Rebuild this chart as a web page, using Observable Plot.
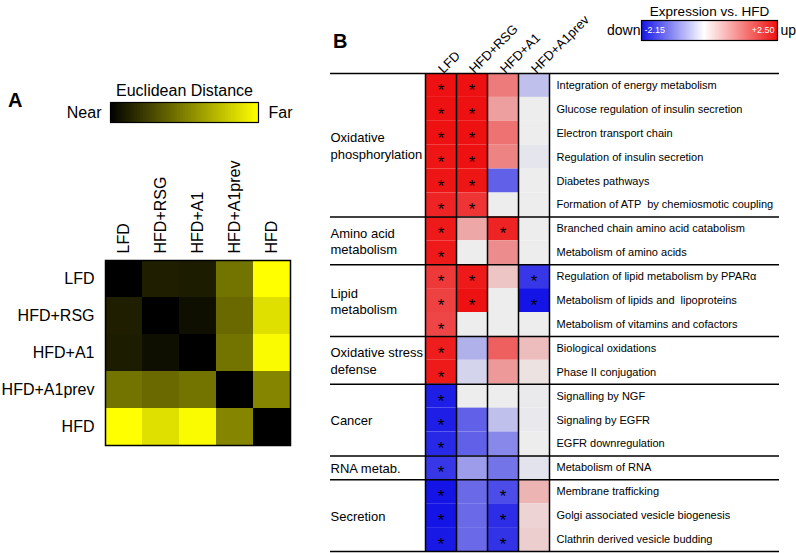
<!DOCTYPE html>
<html>
<head>
<meta charset="utf-8">
<script src="https://cdn.jsdelivr.net/npm/d3@7"></script>
<script src="https://cdn.jsdelivr.net/npm/@observablehq/plot@0.6"></script>
<style>
  body { margin: 0; background: #fff; }
  #root { position: relative; width: 796px; height: 553px; overflow: hidden; background: #fff;
          font-family: "Liberation Sans", Arial, sans-serif; }
  .pane { position: absolute; }
  .letter { position: absolute; font-weight: bold; font-size: 20px; color: #000; }
</style>
</head>
<body>
<div id="root">
  <div class="letter" style="left:8px; top:89px;">A</div>
  <div class="letter" style="left:333px; top:30px;">B</div>
  <div class="pane" id="cbA" style="left:0px; top:80px;"></div>
  <div class="pane" id="hmA" style="left:0px; top:200px;"></div>
  <div class="pane" id="cbB" style="left:600px; top:0px;"></div>
  <div class="pane" id="hmB" style="left:300px; top:0px;"></div>
</div>
<script>
// ---------- Panel A data ----------
const groupsA = ["LFD", "HFD+RSG", "HFD+A1", "HFD+A1prev", "HFD"];
const distLFD       = [0.00, 0.12, 0.11, 0.45, 1.00];
const distHFD_RSG   = [0.12, 0.00, 0.06, 0.41, 0.88];
const distHFD_A1    = [0.11, 0.06, 0.00, 0.45, 0.98];
const distHFD_A1prev= [0.45, 0.41, 0.45, 0.00, 0.52];
const distHFD       = [1.00, 0.88, 0.98, 0.52, 0.00];
const distRows = [distLFD, distHFD_RSG, distHFD_A1, distHFD_A1prev, distHFD];
const cbATitle = "Euclidean Distance";
const cbALow = "Near", cbAHigh = "Far";

// ---------- Panel B data ----------
const colsB = ["LFD", "HFD+RSG", "HFD+A1", "HFD+A1prev"];
const pathways = [
  "Integration of energy metabolism",
  "Glucose regulation of insulin secretion",
  "Electron transport chain",
  "Regulation of insulin secretion",
  "Diabetes pathways",
  "Formation of ATP  by chemiosmotic coupling",
  "Branched chain amino acid catabolism",
  "Metabolism of amino acids",
  "Regulation of lipid metabolism by PPARα",
  "Metabolism of lipids and  lipoproteins",
  "Metabolism of vitamins and cofactors",
  "Biological oxidations",
  "Phase II conjugation",
  "Signalling by NGF",
  "Signaling by EGFR",
  "EGFR downregulation",
  "Metabolism of RNA",
  "Membrane trafficking",
  "Golgi associated vesicle biogenesis",
  "Clathrin derived vesicle budding"
];
const groupNames = ["Oxidative\nphosphorylation", "Amino acid\nmetabolism", "Lipid\nmetabolism",
                    "Oxidative stress\ndefense", "Cancer", "RNA metab.", "Secretion"];
const groupSizes = [6, 2, 3, 2, 3, 1, 3];

const valLFD    = [2.5, 2.5, 2.5, 2.45, 2.45, 2.3, 2.4, 2.4, 2.05, 1.95, 1.9, 2.35, 2.4, -2.05, -2.05, -1.95, -1.8, -2.15, -2.15, -2.1];
const valRSG    = [2.5, 2.5, 2.5, 2.5, 2.45, 2.1, 0.8, 0, 2.4, 2.5, 0, -0.6, -0.25, 0, -1.4, -1.4, -0.8, -1.3, -1.3, -1.3];
const valA1     = [1.3, 0.9, 1.4, 1.2, -1.4, 0, 2.3, 1.1, 0.45, 0, 0, 1.6, 0.95, 0, -0.45, -1.0, -1.2, -1.6, -1.9, -1.85];
const valA1prev = [-0.45, 0, 0, -0.08, 0, 0, 0, 0, -1.8, -2.15, 0, 0.55, 0.12, -0.03, -0.05, 0, -0.1, 0.65, 0.3, 0.35];
const sigLFD    = [1,1,1,1,1,1, 1,1, 1,1,1, 1,1, 1,1,1, 1, 1,1,1];
const sigRSG    = [1,1,1,1,1,1, 0,0, 1,1,0, 0,0, 0,0,0, 0, 0,0,0];
const sigA1     = [0,0,0,0,0,0, 1,0, 0,0,0, 0,0, 0,0,0, 0, 1,1,1];
const sigA1prev = [0,0,0,0,0,0, 0,0, 1,1,0, 0,0, 0,0,0, 0, 0,0,0];
const cbBTitle = "Expression vs. HFD";
const cbBMin = -2.15, cbBMax = 2.50;
const cbBLow = "down", cbBHigh = "up";
const cbBMinLabel = "-2.15", cbBMaxLabel = "+2.50";

const FONT = "'Liberation Sans', Arial, sans-serif";
const BLUE = "#1414e6", GRAY = "#ededed", RED = "#ee1111";

// ---------- Panel A colorbar ----------
{
  const step = 1 / 200;
  const slices = d3.range(0, 1, step);
  const p = Plot.plot({
    width: 300, height: 50,
    marginLeft: 110, marginRight: 42, marginTop: 22, marginBottom: 8,
    style: {background: "transparent", fontFamily: FONT, overflow: "visible"},
    x: {type: "linear", domain: [0, 1], axis: null},
    color: {type: "linear", domain: [0, 1], range: ["#000000", "#ffff00"]},
    marks: [
      Plot.rect(slices, {x1: d => d, x2: d => Math.min(1, d + step * 1.5), fill: d => d + step / 2, shapeRendering: "crispEdges"}),
      Plot.frame({stroke: "#000", strokeWidth: 1.2}),
      Plot.text([cbATitle], {text: d => d, frameAnchor: "top", lineAnchor: "middle", dy: -12, fontSize: 16, fill: "#000"}),
      Plot.text([cbALow], {text: d => d, frameAnchor: "left", lineAnchor: "middle", textAnchor: "end", dx: -9, fontSize: 16, fill: "#000"}),
      Plot.text([cbAHigh], {text: d => d, frameAnchor: "right", lineAnchor: "middle", textAnchor: "start", dx: 10, fontSize: 16, fill: "#000"})
    ]
  });
  document.getElementById("cbA").append(p);
}

// ---------- Panel A heatmap ----------
{
  const cells = groupsA.flatMap((r, i) => groupsA.map((c, j) => ({row: r, col: c, v: distRows[i][j]})));
  const p = Plot.plot({
    width: 300, height: 250,
    marginLeft: 105, marginRight: 10, marginTop: 60, marginBottom: 5,
    style: {background: "transparent", fontFamily: FONT, overflow: "visible"},
    x: {domain: groupsA, padding: 0, round: false, axis: null},
    y: {domain: groupsA, padding: 0, round: false, axis: null},
    color: {type: "linear", domain: [0, 1], range: ["#000000", "#ffff00"]},
    marks: [
      Plot.cell(cells, {x: "col", y: "row", fill: "v", inset: 0, shapeRendering: "crispEdges"}),
      Plot.frame({stroke: "#000", strokeWidth: 1.5}),
      Plot.text(groupsA, {y: d => d, text: d => d, frameAnchor: "left", lineAnchor: "middle", textAnchor: "end", dx: -11, fontSize: 16, fill: "#000"}),
      Plot.text(groupsA, {x: d => d, text: d => d, frameAnchor: "top", lineAnchor: "middle", rotate: -90, textAnchor: "start", dy: -7, fontSize: 16, fill: "#000"})
    ]
  });
  document.getElementById("hmA").append(p);
}

// ---------- Panel B colorbar ----------
{
  const step = (cbBMax - cbBMin) / 200;
  const slices = d3.range(cbBMin, cbBMax, step);
  const p = Plot.plot({
    width: 196, height: 50,
    marginLeft: 41, marginRight: 19, marginTop: 20, marginBottom: 10,
    style: {background: "transparent", fontFamily: FONT, overflow: "visible"},
    x: {type: "linear", domain: [cbBMin, cbBMax], axis: null},
    color: {type: "linear", domain: [cbBMin, 0, cbBMax], range: [BLUE, "#ffffff", RED]},
    marks: [
      Plot.rect(slices, {x1: d => d, x2: d => Math.min(cbBMax, d + step * 1.5), fill: d => d + step / 2, shapeRendering: "crispEdges"}),
      Plot.frame({stroke: "#000", strokeWidth: 1.2}),
      Plot.text([cbBTitle], {text: d => d, frameAnchor: "top", lineAnchor: "middle", dy: -9, fontSize: 13.5, fill: "#000"}),
      Plot.text([cbBLow], {text: d => d, frameAnchor: "left", lineAnchor: "middle", textAnchor: "end", dx: -1, fontSize: 14, fill: "#000"}),
      Plot.text([cbBHigh], {text: d => d, frameAnchor: "right", lineAnchor: "middle", textAnchor: "start", dx: 3, fontSize: 14, fill: "#000"}),
      Plot.text([cbBMinLabel], {text: d => d, frameAnchor: "left", lineAnchor: "middle", textAnchor: "start", dx: 3, fontSize: 9, fill: "#fff"}),
      Plot.text([cbBMaxLabel], {text: d => d, frameAnchor: "right", lineAnchor: "middle", textAnchor: "end", dx: -3, fontSize: 9, fill: "#fff"})
    ]
  });
  document.getElementById("cbB").append(p);
}

// ---------- Panel B heatmap ----------
{
  const W = 496, H = 553, mTop = 73, mBottom = 2;
  const bw = (H - mTop - mBottom) / pathways.length;
  const colW = 31;
  const colVals = [valLFD, valRSG, valA1, valA1prev];
  const colSig = [sigLFD, sigRSG, sigA1, sigA1prev];
  const cells = colsB.flatMap((c, j) => pathways.map((p, i) => ({col: c, path: p, v: colVals[j][i], sig: colSig[j][i]})));
  const stars = cells.filter(d => d.sig);
  let acc = 0;
  const groups = groupNames.map((g, k) => { const o = {name: g, first: pathways[acc], n: groupSizes[k]}; acc += groupSizes[k]; return o; });
  const groupLabelMarks = groups.map(g =>
    Plot.text([g], {y: "first", dy: (g.n - 1) * bw / 2, text: "name", frameAnchor: "left", lineAnchor: "middle",
      textAnchor: "start", fontSize: 13, lineHeight: 1.25, fill: "#000"}));
  const p = Plot.plot({
    width: W, height: H,
    marginLeft: 30, marginRight: 17, marginTop: mTop, marginBottom: mBottom,
    style: {background: "transparent", fontFamily: FONT, overflow: "visible"},
    x: {domain: colsB, range: [125, 125 + colW * colsB.length], padding: 0, round: false, axis: null},
    y: {domain: pathways, padding: 0, round: false, axis: null},
    color: {type: "linear", domain: [cbBMin, 0, cbBMax], range: [BLUE, GRAY, RED], clamp: true},
    marks: [
      Plot.cell(cells, {x: "col", y: "path", fill: "v", inset: 0}),
      Plot.text(stars, {x: "col", y: "path", text: () => "*", fontSize: 17, lineAnchor: "middle", dy: 5, fill: "#000"}),
      Plot.ruleX(colsB, {x: d => d, dx: -colW / 2, stroke: "#000", strokeWidth: 1.5}),
      Plot.ruleX([colsB[colsB.length - 1]], {x: d => d, dx: colW / 2, stroke: "#000", strokeWidth: 1.5}),
      Plot.ruleY(groups, {y: "first", dy: -bw / 2, stroke: "#000", strokeWidth: 1.5}),
      Plot.ruleY([pathways[pathways.length - 1]], {y: d => d, dy: bw / 2, stroke: "#000", strokeWidth: 1.5}),
      ...groupLabelMarks,
      Plot.text(pathways, {y: d => d, x: () => colsB[colsB.length - 1], text: d => d, dx: colW / 2 + 7, lineAnchor: "middle", textAnchor: "start", fontSize: 11, fill: "#000"}),
      Plot.text(colsB, {x: d => d, text: d => d, frameAnchor: "top", rotate: -45, textAnchor: "start", dx: -4, dy: -6, fontSize: 13, fill: "#000"})
    ]
  });
  document.getElementById("hmB").append(p);
}
</script>
</body>
</html>
